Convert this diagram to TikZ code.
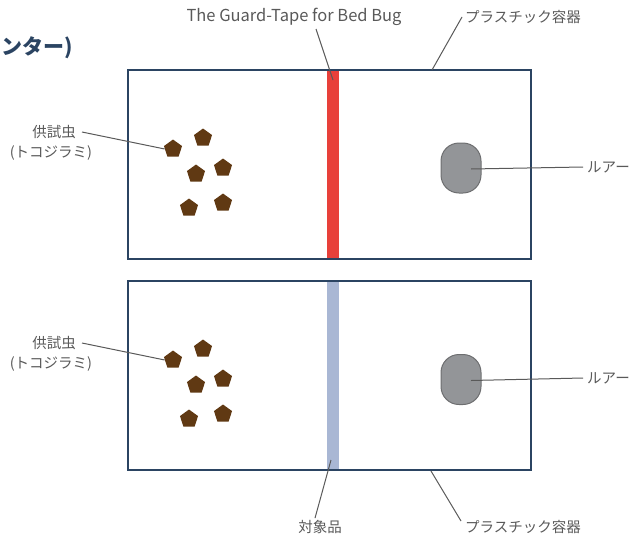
\documentclass[tikz,border=0pt]{standalone}
\usepackage{fontspec}
\setmainfont{Noto Sans CJK JP}
\usetikzlibrary{shapes.geometric}
\definecolor{navy}{HTML}{2B4462}
\definecolor{txtgray}{HTML}{595959}
\definecolor{tapered}{HTML}{E8403A}
\definecolor{tapeblue}{HTML}{A9B7D4}
\definecolor{lurefill}{HTML}{939598}
\definecolor{lureedge}{HTML}{6D6E70}
\definecolor{bugbrown}{HTML}{603913}
\tikzset{
  container/.style={draw=navy, line width=2pt, minimum width=403pt, minimum height=189pt, inner sep=0pt},
  tapebar/.style={minimum width=12pt, minimum height=189pt, inner sep=0pt},
  lure/.style={draw=lureedge, fill=lurefill, line width=1pt, rounded corners=18pt, minimum width=40pt, minimum height=50pt, inner sep=0pt},
  bug/.style={regular polygon, regular polygon sides=5, fill=bugbrown, minimum size=19pt, inner sep=0pt},
  lbl/.style={text=txtgray, font=\fontsize{14.5}{16}\selectfont, inner sep=0pt},
  leader/.style={draw=txtgray, line width=1pt}
}
\begin{document}
\begin{tikzpicture}[x=1pt,y=-1pt]
\useasboundingbox (0,0) rectangle (632,536);
\begin{scope}
\clip (0,0) rectangle (632,536);
% title fragment
\node[anchor=east, text=navy, font=\fontsize{21}{24}\selectfont\bfseries, inner sep=0pt] (title) at (73,48) {ンター)};

% top container
\node[tapebar, fill=tapered] (tape1) at (333,164.5) {};
\node[container] (box1) at (329.5,164.5) {};
\node[lure] (lure1) at (461,168) {};
\node[bug] (b11) at (173,149) {};
\node[bug] (b12) at (203,138) {};
\node[bug] (b13) at (196,174) {};
\node[bug] (b14) at (223,168) {};
\node[bug] (b15) at (189,208) {};
\node[bug] (b16) at (223,203) {};

% bottom container
\node[tapebar, fill=tapeblue] (tape2) at (333,375.5) {};
\node[container] (box2) at (329.5,375.5) {};
\node[lure] (lure2) at (461,379.5) {};
\node[bug] (b21) at (173,360) {};
\node[bug] (b22) at (203,349) {};
\node[bug] (b23) at (196,385) {};
\node[bug] (b24) at (223,379) {};
\node[bug] (b25) at (189,419) {};
\node[bug] (b26) at (223,414) {};

% labels
\node[lbl, font=\fontsize{16.5}{18}\selectfont] (guard) at (294,17) {The Guard-Tape for Bed Bug};
\node[lbl, anchor=west] (cont1) at (465,17) {プラスチック容器};
\node[lbl, anchor=east] (sub1a) at (76,132) {供試虫};
\node[lbl] (sub1b) at (51,153) {(トコジラミ)};
\node[lbl, anchor=west] (lurel1) at (587,167) {ルアー};
\node[lbl, anchor=east] (sub2a) at (76,343) {供試虫};
\node[lbl] (sub2b) at (51,364) {(トコジラミ)};
\node[lbl, anchor=west] (lurel2) at (587,378) {ルアー};
\node[lbl] (target) at (320,527) {対象品};
\node[lbl, anchor=west] (cont2) at (465,527) {プラスチック容器};

% connector end points
\coordinate (g1) at (333,80);
\coordinate (c1) at (432,70);
\coordinate (l1) at (471,169);
\coordinate (l2) at (471,380.5);
\coordinate (t2) at (331,460);
\coordinate (c2) at (431,471);
\coordinate (s1) at (82,132);
\coordinate (s2) at (82,343);

% leaders
\draw[leader] (316,29) -- (g1);
\draw[leader] (462,17) -- (c1);
\draw[leader] (s1) -- (b11.west);
\draw[leader] (s2) -- (b21.west);
\draw[leader] (l1) -- ([xshift=-4pt]lurel1.west);
\draw[leader] (l2) -- ([xshift=-4pt]lurel2.west);
\draw[leader] (target.north) ++(-5,-2) -- (t2);
\draw[leader] (c2) -- (461,521);
\end{scope}
\end{tikzpicture}
\end{document}
